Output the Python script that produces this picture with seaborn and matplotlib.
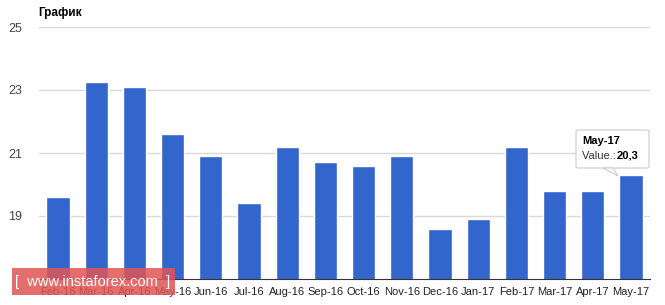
import matplotlib
matplotlib.use("Agg")
import matplotlib.pyplot as plt
import seaborn as sns
import pandas as pd
from matplotlib.patches import FancyBboxPatch, Polygon

months = ["Feb-16", "Mar-16", "Apr-16", "May-16", "Jun-16", "Jul-16", "Aug-16", "Sep-16",
          "Oct-16", "Nov-16", "Dec-16", "Jan-17", "Feb-17", "Mar-17", "Apr-17", "May-17"]
values = [19.6, 23.25, 23.1, 21.6, 20.9, 19.4, 21.2, 20.7,
          20.6, 20.9, 18.6, 18.9, 21.2, 19.8, 19.8, 20.3]
yticks = [19, 21, 23, 25]
title = "График"

df = pd.DataFrame({"month": months, "value": values})

sns.set_theme(style="white")
plt.rcParams['font.family'] = ['Liberation Sans', 'DejaVu Sans']

fig = plt.figure(figsize=(6.65, 3.05), dpi=100)
ax = fig.add_axes([39/665, 26/305, 611/665, 252/305])

for t in yticks:
    ax.axhline(t, color="#d9d9d9", lw=1, zorder=0)

sns.barplot(data=df, x="month", y="value", color="#3366CC", saturation=1,
            width=0.61, ax=ax, zorder=2)
ax.set_ylim(17, 25)
ax.set_xlim(-0.5, len(months) - 0.5)
ax.set_yticks(yticks)
ax.set_yticklabels([str(t) for t in yticks], color="#444444", fontsize=9)
ax.tick_params(axis="x", labelsize=8, colors="#222222", length=0, pad=6)
ax.tick_params(axis="y", length=0, pad=12)
ax.set_xlabel("")
ax.set_ylabel("")
for s in ["top", "right", "left"]:
    ax.spines[s].set_visible(False)
ax.spines["bottom"].set_color("#333333")
ax.spines["bottom"].set_linewidth(0.8)

fig.text(38/665, 1 - 13/305, title, fontsize=8.5, fontweight="bold", color="#000000",
         va="center", ha="left")

# tooltip
last = len(months) - 1
bx0, bx1 = 576/665, 649/665
by0, by1 = 1 - 168/305, 1 - 130/305
box = FancyBboxPatch((bx0, by0), bx1 - bx0, by1 - by0, boxstyle="round,pad=0,rounding_size=0.004",
                     transform=fig.transFigure, facecolor="white", edgecolor="#cccccc",
                     lw=0.8, zorder=10)
fig.patches.append(box)
tri = Polygon([(603/665, by0), (618/665, 1 - 176/305), (613/665, by0)], closed=True,
              transform=fig.transFigure, facecolor="white", edgecolor="#cccccc", lw=0.8, zorder=11)
fig.patches.append(tri)
fig.text(582/665, 1 - 141/305, months[last], fontsize=8, fontweight="bold", color="#000000",
         va="center", ha="left", zorder=12)
fig.text(582/665, 1 - 156/305, "Value.: ", fontsize=8, color="#333333", va="center", ha="left",
         zorder=12)
fig.text(617/665, 1 - 156/305, f"{values[last]:.1f}".replace(".", ","), fontsize=8,
         fontweight="bold", color="#000000", va="center", ha="left", zorder=12)

# watermark
wm = FancyBboxPatch((12/665, 1 - 295/305), 163/665, 27/305, boxstyle="square,pad=0",
                    transform=fig.transFigure, facecolor="#e05555", alpha=0.85,
                    edgecolor="none", zorder=20)
fig.patches.append(wm)
fig.text(93/665, 1 - 282/305, "[  www.instaforex.com  ]", fontsize=10.5, color="white",
         va="center", ha="center", zorder=21)

fig.savefig("out.png", dpi=100)
